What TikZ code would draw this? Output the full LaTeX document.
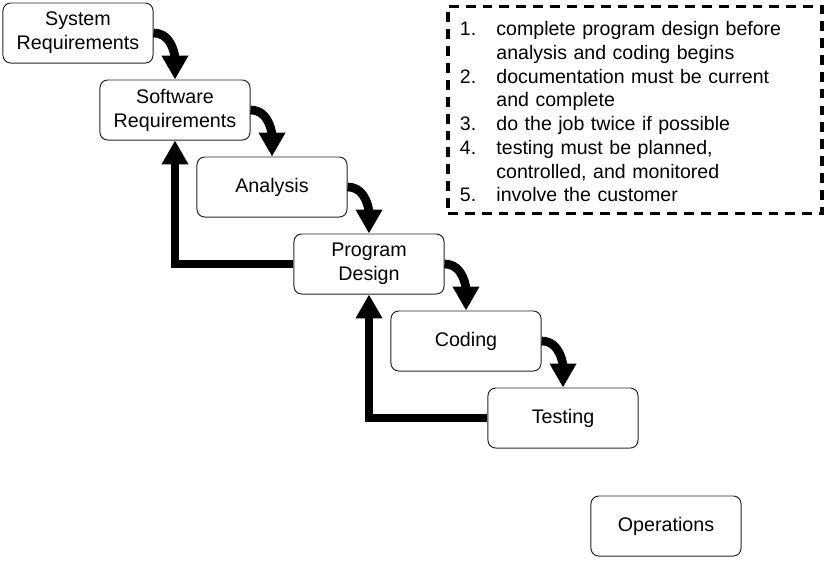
\documentclass[tikz,border=0pt]{standalone}
\usepackage{fontspec}
\setmainfont{Liberation Sans}
\usetikzlibrary{arrows.meta}
\begin{document}
\begin{tikzpicture}[x=0.025cm,y=-0.025cm,
  phase/.style={draw=black!85,line width=0.7pt,rounded corners=5.5pt,minimum width=3.75cm,minimum height=1.5cm,align=center,font=\fontsize{14}{17}\selectfont},
  flow/.style={line width=6.2pt,-{Triangle[width=18pt,length=17pt]}},
  notebox/.style={draw,line width=2.4pt,dash pattern=on 7pt off 5pt,minimum width=9.35cm,minimum height=5.175cm,inner xsep=8.5pt,text width=9.35cm-17pt,align=left,font=\fontsize{13.9}{16.9}\selectfont}]
\useasboundingbox (0,0) rectangle (826,561);
  \foreach \nm/\txt [count=\i from 0] in {sysreq/System\\Requirements,softreq/Software\\Requirements,analysis/Analysis,design/Program\\Design,coding/Coding,testing/Testing}
  {  \node [phase] (\nm) at (78+97*\i,33+77*\i) {\txt};}
\node [phase] (operations) at (666,526) {Operations};
  \foreach \a/\b in {sysreq/softreq,softreq/analysis,analysis/design,design/coding,coding/testing}
  {  \draw [flow] (\a.east) to[out=0,in=90] (\b.north);}
\draw [flow] (design.west) -| (softreq.south);
\draw [flow] (testing.west) -| (design.south);
\node [notebox] (principles) at (635,110) {\begin{tabular}{@{}p{26pt}@{}l@{}}
\rule{0pt}{17.5pt}1. & complete program design before\\
   & analysis and coding begins\\
2. & documentation must be current\\
   & and complete\\
3. & do the job twice if possible\\
4. & testing must be planned,\\
   & controlled, and monitored\\
5. & involve the customer
\end{tabular}};
\end{tikzpicture}
\end{document}
